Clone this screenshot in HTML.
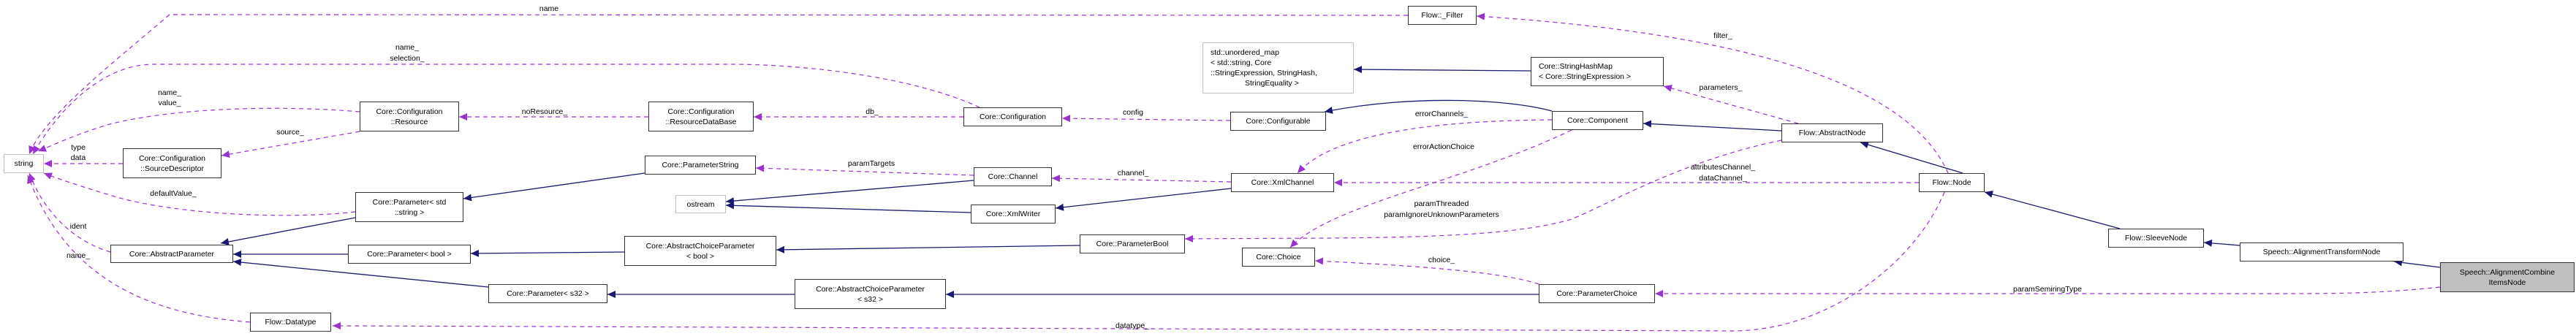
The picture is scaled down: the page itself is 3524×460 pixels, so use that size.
<!DOCTYPE html>
<html><head><meta charset="utf-8"><style>
html,body{margin:0;padding:0;background:#fff;}
body{width:3524px;height:460px;position:relative;overflow:hidden;font-family:"Liberation Sans",Helvetica,Arial,sans-serif;font-size:10.5px;color:#000;}
.b{position:absolute;box-sizing:border-box;border:1.5px solid #333;background:#fff;display:flex;flex-direction:column;align-items:center;justify-content:center;text-align:center;line-height:14px;white-space:nowrap;}
.g{border:1.2px solid #bfbfbf;}
svg{position:absolute;left:0;top:0;}
svg text{font-family:"Liberation Sans",Helvetica,Arial,sans-serif;font-size:10.5px;fill:#000;text-anchor:middle;}
</style></head><body>
<svg width="3524" height="460" viewBox="0 0 3524 460">
<defs>
<marker id="n" markerWidth="12" markerHeight="10" refX="11" refY="5" orient="auto" markerUnits="userSpaceOnUse"><path d="M0,0 L11,5 L0,10 z" fill="#191970"/></marker>
<marker id="p" markerWidth="12" markerHeight="10" refX="11" refY="5" orient="auto" markerUnits="userSpaceOnUse"><path d="M0,0 L11,5 L0,10 z" fill="#9a32cd"/></marker>
</defs>
<g fill="none" stroke="#191970" stroke-width="1.3" marker-end="url(#n)">
<path d="M486,298 L302,333"/>
<path d="M476,348 L319,348"/>
<path d="M668,393 L319,358"/>
<path d="M882,237 L634,272"/>
<path d="M854,345 L644,347"/>
<path d="M1087,403 L831,403"/>
<path d="M1332,247 L993,276"/>
<path d="M1328,291 L993,281"/>
<path d="M1684,258 L1444,285"/>
<path d="M1477,336 L1062,342"/>
<path d="M2105,403 L1294,403"/>
<path d="M2094,97 L1852,95"/>
<path d="M2123,152 C2060,135 1930,130 1812,153"/>
<path d="M2437,179 L2248,169"/>
<path d="M2685,237 L2545,195"/>
<path d="M2900,313 L2715,263"/>
<path d="M3064,336 L3015,332"/>
<path d="M3338,366 L3275,358"/>
</g>
<g fill="none" stroke="#9a32cd" stroke-width="1.2" stroke-dasharray="6,5" marker-end="url(#p)">
<path d="M1926,21 L232,20 C150,90 60,160 40,211"/>
<path d="M1340,147 C1250,105 1100,88 1000,88 L210,88 C140,88 80,150 45,211"/>
<path d="M492,153 C400,145 250,145 150,170 C100,185 70,200 52,207"/>
<path d="M492,180 L303,213"/>
<path d="M168,224 L60,224"/>
<path d="M486,290 C400,300 250,295 160,270 C110,255 80,245 60,237"/>
<path d="M151,345 C100,330 60,290 40,237"/>
<path d="M342,441 C200,430 90,380 38,240"/>
<path d="M887,160 L628,160"/>
<path d="M1318,160 L1031,160"/>
<path d="M1683,165 L1453,162"/>
<path d="M1332,240 L1034,230"/>
<path d="M1684,249 L1439,244"/>
<path d="M2123,164 C2000,165 1830,175 1775,237"/>
<path d="M2150,178 C2000,250 1820,280 1765,339"/>
<path d="M2437,192 C2300,220 2200,280 2150,300 C2050,330 1850,325 1621,327"/>
<path d="M2105,389 C2050,370 1900,362 1799,357"/>
<path d="M2625,250 L1825,250"/>
<path d="M2460,169 L2276,118"/>
<path d="M2665,237 C2600,90 2300,40 2020,22"/>
<path d="M2660,263 C2620,360 2500,453 2370,453 L455,446"/>
<path d="M3338,393 C3250,402 3200,402 3100,402 L2264,402"/>
</g>
<text x="751" y="15">name</text>
<text x="557" y="68">name_</text>
<text x="557" y="83">selection_</text>
<text x="232" y="130">name_</text>
<text x="232" y="144">value_</text>
<text x="745" y="156">noResource_</text>
<text x="397" y="184">source_</text>
<text x="107" y="205">type</text>
<text x="107" y="219">data</text>
<text x="237" y="268">defaultValue_</text>
<text x="107" y="313">ident</text>
<text x="107" y="353">name_</text>
<text x="1193" y="156">db_</text>
<text x="1550" y="157">config</text>
<text x="1192" y="227">paramTargets</text>
<text x="1550" y="240">channel_</text>
<text x="1549" y="449">datatype_</text>
<text x="2357" y="52">filter_</text>
<text x="2354" y="123">parameters_</text>
<text x="1972" y="159">errorChannels_</text>
<text x="1975" y="204">errorActionChoice</text>
<text x="2357" y="232">attributesChannel_</text>
<text x="2357" y="247">dataChannel_</text>
<text x="1972" y="282">paramThreaded</text>
<text x="1972" y="297">paramIgnoreUnknownParameters</text>
<text x="1972" y="359">choice_</text>
<text x="2801" y="399">paramSemiringType</text>
</svg>
<div class="b g" style="left:5px;top:211px;width:55px;height:26px;">string</div>
<div class="b" style="left:492px;top:139px;width:136px;height:41px;"><div>Core::Configuration</div><div>::Resource</div></div>
<div class="b" style="left:168px;top:203px;width:135px;height:41px;"><div>Core::Configuration</div><div>::SourceDescriptor</div></div>
<div class="b" style="left:486px;top:263px;width:148px;height:41px;"><div>Core::Parameter&lt; std</div><div>::string &gt;</div></div>
<div class="b" style="left:151px;top:335px;width:168px;height:25px;">Core::AbstractParameter</div>
<div class="b" style="left:476px;top:335px;width:168px;height:26px;">Core::Parameter&lt; bool &gt;</div>
<div class="b" style="left:668px;top:389px;width:163px;height:26px;">Core::Parameter&lt; s32 &gt;</div>
<div class="b" style="left:342px;top:428px;width:111px;height:26px;">Flow::Datatype</div>
<div class="b" style="left:887px;top:139px;width:144px;height:41px;"><div>Core::Configuration</div><div>::ResourceDataBase</div></div>
<div class="b" style="left:882px;top:213px;width:152px;height:26px;">Core::ParameterString</div>
<div class="b" style="left:854px;top:323px;width:208px;height:41px;"><div>Core::AbstractChoiceParameter</div><div>&lt; bool &gt;</div></div>
<div class="b g" style="left:1645px;top:58px;width:207px;height:70px;align-items:flex-start;padding-left:10px;text-align:left;"><div>std::unordered_map</div><div>&lt; std::string, Core</div><div>::StringExpression, StringHash,</div><div style="padding-left:47px;">StringEquality &gt;</div></div>
<div class="b" style="left:1318px;top:147px;width:135px;height:26px;">Core::Configuration</div>
<div class="b" style="left:1683px;top:153px;width:131px;height:26px;">Core::Configurable</div>
<div class="b" style="left:1332px;top:229px;width:107px;height:26px;">Core::Channel</div>
<div class="b g" style="left:924px;top:267px;width:69px;height:25px;">ostream</div>
<div class="b" style="left:1328px;top:280px;width:116px;height:26px;">Core::XmlWriter</div>
<div class="b" style="left:1684px;top:237px;width:141px;height:26px;">Core::XmlChannel</div>
<div class="b" style="left:1477px;top:321px;width:144px;height:26px;">Core::ParameterBool</div>
<div class="b" style="left:1699px;top:339px;width:100px;height:26px;">Core::Choice</div>
<div class="b" style="left:1087px;top:382px;width:207px;height:41px;"><div>Core::AbstractChoiceParameter</div><div>&lt; s32 &gt;</div></div>
<div class="b" style="left:1926px;top:8px;width:94px;height:26px;">Flow::_Filter</div>
<div class="b" style="left:2094px;top:78px;width:182px;height:40px;align-items:flex-start;padding-left:10px;text-align:left;"><div>Core::StringHashMap</div><div>&lt; Core::StringExpression &gt;</div></div>
<div class="b" style="left:2123px;top:152px;width:125px;height:26px;">Core::Component</div>
<div class="b" style="left:2437px;top:169px;width:139px;height:26px;">Flow::AbstractNode</div>
<div class="b" style="left:2625px;top:237px;width:90px;height:26px;">Flow::Node</div>
<div class="b" style="left:2105px;top:389px;width:159px;height:26px;">Core::ParameterChoice</div>
<div class="b" style="left:2884px;top:313px;width:131px;height:26px;">Flow::SleeveNode</div>
<div class="b" style="left:3064px;top:332px;width:224px;height:26px;">Speech::AlignmentTransformNode</div>
<div class="b" style="left:3338px;top:359px;width:184px;height:41px;background:#bfbfbf;"><div>Speech::AlignmentCombine</div><div>ItemsNode</div></div>
</body></html>
